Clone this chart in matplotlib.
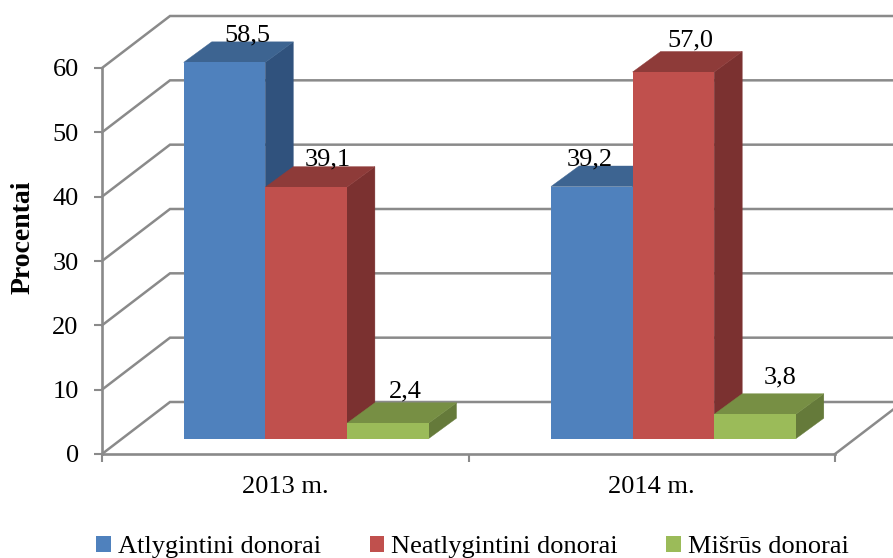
import matplotlib
matplotlib.use("Agg")
import matplotlib.pyplot as plt
from matplotlib.patches import Polygon, Patch

categories = ["2013 m.", "2014 m."]
series_names = ["Atlygintini donorai", "Neatlygintini donorai", "Mišrūs donorai"]
paid = [58.5, 39.2]
unpaid = [39.1, 57.0]
mixed = [2.4, 3.8]
value_labels = {"paid": ["58,5", "39,2"], "unpaid": ["39,1", "57,0"], "mixed": ["2,4", "3,8"]}
y_ticks = [0, 10, 20, 30, 40, 50, 60]

W, H = 893, 558
L, R, T, B = 102.0, 835.0, 68.0, 454.0
GRID = "#8a8a8a"
FS = 19.0
plt.rcParams["font.family"] = ["Liberation Serif", "DejaVu Serif"]

fig = plt.figure(figsize=(W / 100, H / 100), dpi=100)
ax = fig.add_axes([L / W, 1 - B / H, (R - L) / W, (B - T) / H])
ax.set_xlim(0, 2)
ax.set_ylim(0, 60)
ux = (R - L) / 2
uy = (B - T) / 60

wall_dx, wall_dy = 68 / ux, 52 / uy
depth_dx, depth_dy = 28 / ux, 20.5 / uy
base = 15.3 / uy
gw = 81.6 / ux
starts = [(183.7 - L) / ux, (551.0 - L) / ux]

for v in y_ticks:
    ax.plot([0, wall_dx, 2 + wall_dx], [v, v + wall_dy, v + wall_dy], color=GRID, lw=1.8,
            clip_on=False, zorder=1, solid_joinstyle="miter")
ax.plot([2, 2 + wall_dx], [0, wall_dy], color=GRID, lw=1.8, clip_on=False, zorder=1)

styles = [("paid", paid, "#4F81BD", "#3D6491", "#30527D"),
          ("unpaid", unpaid, "#C0504D", "#8E3B39", "#7B3130"),
          ("mixed", mixed, "#9BBB59", "#778F44", "#657A3A")]
label_off = {"paid": [(23, 21), (-2, 21)],
             "unpaid": [(22, 22), (17, 26)],
             "mixed": [(18, 26), (25, 31)]}

z = 3
for si, (key, vals, front, top, side) in enumerate(styles):
    for gi, v in enumerate(vals):
        x0 = starts[gi] + si * gw
        x1 = x0 + gw
        y0, y1 = base, base + v
        ax.add_patch(Polygon([(x1, y0), (x1 + depth_dx, y0 + depth_dy), (x1 + depth_dx, y1 + depth_dy), (x1, y1)],
                             fc=side, ec=side, lw=0.3, clip_on=False, zorder=z))
        ax.add_patch(Polygon([(x0, y1), (x1, y1), (x1 + depth_dx, y1 + depth_dy), (x0 + depth_dx, y1 + depth_dy)],
                             fc=top, ec=top, lw=0.3, clip_on=False, zorder=z))
        ax.bar(x0, v, width=gw, bottom=base, align="edge", color=front, clip_on=False, zorder=z + 0.5)
        ax.annotate(value_labels[key][gi], (x0 + gw / 2, y1), xytext=label_off[key][gi],
                    textcoords="offset pixels", ha="center", va="baseline", fontsize=FS,
                    color="black", zorder=20, annotation_clip=False)
    z += 1

for s in ("top", "right"):
    ax.spines[s].set_visible(False)
for s in ("left", "bottom"):
    ax.spines[s].set_color(GRID)
    ax.spines[s].set_linewidth(1.9)
    ax.spines[s].set_zorder(2)

ax.set_yticks(y_ticks)
ax.tick_params(axis="y", length=5.8, width=1.5, color=GRID, labelsize=FS, pad=11)
ax.set_xticks([0, 1, 2])
ax.set_xticklabels([])
ax.set_xticks([0.5, 1.5], minor=True)
ax.set_xticklabels(categories, minor=True, fontsize=FS)
ax.tick_params(axis="x", which="major", length=5.8, width=1.5, color=GRID)
ax.tick_params(axis="x", which="minor", length=0, pad=16)
fig.text(23.5 / W, 1 - 237 / H, "Procentai", rotation=90, ha="center", va="center",
         fontsize=20, fontweight="bold")

handles = [Patch(fc=st[2], ec="none") for st in styles]
fig.legend(handles, series_names, ncol=3, loc="center", bbox_to_anchor=(472.5 / W, 1 - 547 / H),
           frameon=False, fontsize=FS, handlelength=0.54, handleheight=0.54, handletextpad=0.27,
           columnspacing=1.85, borderpad=0, borderaxespad=0, labelspacing=0)
fig.savefig("out.png", dpi=100)
